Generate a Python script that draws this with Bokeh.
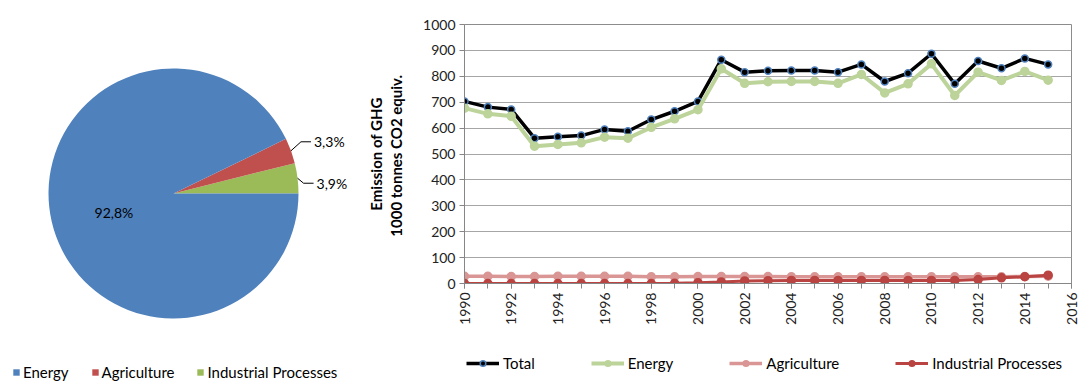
import math
from bokeh.plotting import figure
from bokeh.layouts import row, column
from bokeh.models import (Legend, LegendItem, FixedTicker, Title, Range1d)
from bokeh.core.properties import value
from bokeh.embed import file_html
from bokeh.resources import INLINE

# ---------------- data ----------------
pie_categories = ["Energy", "Agriculture", "Industrial Processes"]
pie_values = [92.8, 3.3, 3.9]
pie_colors = ["#4F81BD", "#C0504D", "#9BBB59"]

years = [1990, 1991, 1992, 1993, 1994, 1995, 1996, 1997, 1998, 1999,
         2000, 2001, 2002, 2003, 2004, 2005, 2006, 2007, 2008, 2009,
         2010, 2011, 2012, 2013, 2014, 2015]
total = [703, 681, 672, 561, 567, 571, 595, 588, 633, 665,
         703, 864, 816, 821, 822, 822, 816, 846, 780, 812,
         887, 771, 859, 831, 869, 846]
energy = [677, 655, 646, 530, 537, 543, 565, 561, 603, 636,
          671, 829, 773, 779, 780, 780, 773, 807, 736, 771,
          848, 726, 816, 784, 819, 785]
agriculture = [28, 28, 27, 27, 28, 28, 28, 28, 26, 26,
               27, 27, 27, 27, 26, 26, 26, 26, 26, 26,
               26, 26, 26, 26, 27, 28]
industrial = [0, 0, 0, 0, 0, 0, 0, 0, 0, 1,
              3, 6, 10, 11, 12, 12, 12, 12, 12, 12,
              12, 12, 15, 22, 26, 32]
x_ticks = [1990, 1992, 1994, 1996, 1998, 2000, 2002, 2004, 2006, 2008,
           2010, 2012, 2014, 2016]
y_ticks = [0, 100, 200, 300, 400, 500, 600, 700, 800, 900, 1000]
y_title_lines = ["Emission of GHG", "1000 tonnes CO2  equiv."]

FONT = "Lato"

# ---------------- pie ----------------
PW, PH = 360, 381
pie = figure(width=PW, height=PH, output_backend="svg", toolbar_location=None,
             x_range=Range1d(0, PW), y_range=Range1d(0, PH),
             x_axis_location=None, y_axis_location=None, min_border=0)
pie.frame_align = False
pie.outline_line_color = None
pie.xgrid.visible = False
pie.ygrid.visible = False

cx, cy, R = 173, 188, 125
# drawn counter-clockwise from 3 o'clock: Industrial, Agriculture, Energy
order = [2, 1, 0]
start = 0.0
angles = {}
for i in order:
    frac = pie_values[i] / sum(pie_values)
    end = start + frac * 2 * math.pi
    angles[i] = (start, end)
    start = end

wedge_r = {}
for i in order:
    s, e = angles[i]
    wedge_r[i] = pie.wedge(x=[cx], y=[cy], radius=R, start_angle=s, end_angle=e,
                           direction="anticlock", fill_color=pie_colors[i],
                           line_color=None)

def fmt(v):
    return ("%.1f%%" % v).replace(".", ",")

# inner label for Energy
s, e = angles[0]
mid = (s + e) / 2 + 0.08
pie.text(x=[cx + 0.5 * R * math.cos(mid)], y=[cy + 0.5 * R * math.sin(mid)],
         text=[fmt(pie_values[0])], text_align="center", text_baseline="middle",
         text_font=value(FONT), text_font_size="14px", text_color="#000000")

# outside labels with leader lines
for i, dx, dy in ((1, 10, 9), (2, 6, -5)):
    s, e = angles[i]
    mid = (s + e) / 2
    x0 = cx + R * math.cos(mid)
    y0 = cy + R * math.sin(mid)
    x1 = x0 + dx
    y1 = y0 + dy
    x2 = x1 + 10
    pie.line(x=[x0, x1, x2], y=[y0, y1, y1], line_color="#000000", line_width=1)
    pie.text(x=[x2 + 3], y=[y1], text=[fmt(pie_values[i])], text_align="left",
             text_baseline="middle", text_font=value(FONT), text_font_size="14px",
             text_color="#000000")

pie_legend = Legend(items=[LegendItem(label=pie_categories[i], renderers=[wedge_r[i]])
                           for i in range(3)],
                    orientation="horizontal", location=(12, 0),
                    glyph_width=8, glyph_height=8, label_standoff=3, spacing=22,
                    padding=0, margin=0, border_line_color=None,
                    background_fill_alpha=0,
                    label_text_font=FONT, label_text_font_size="15px",
                    label_text_color="#000000", label_height=16)
pie.add_layout(pie_legend, "center")

# ---------------- line chart ----------------
LW, LH = 719, 340
p = figure(width=LW, height=LH, output_backend="svg", toolbar_location=None,
           x_range=Range1d(1990, 2016), y_range=Range1d(0, 1000),
           min_border_left=104, min_border_right=8, min_border_top=24,
           min_border_bottom=LH - 283)
p.frame_align = False
p.outline_line_color = "#8C8C8C"
p.outline_line_width = 1
p.xgrid.visible = False
p.ygrid.grid_line_color = "#A6A6A6"
p.ygrid.grid_line_width = 1

p.yaxis.ticker = FixedTicker(ticks=y_ticks)
p.yaxis.major_tick_out = 5
p.yaxis.major_tick_in = 0
p.yaxis.minor_tick_line_color = None
p.yaxis.axis_line_color = "#868686"
p.yaxis.major_tick_line_color = "#868686"
p.yaxis.major_label_text_font = FONT
p.yaxis.major_label_text_font_size = "14px"
p.yaxis.major_label_text_color = "#222222"
p.yaxis.major_label_standoff = 4
p.yaxis.axis_label = y_title_lines[1]
p.yaxis.axis_label_text_font = FONT
p.yaxis.axis_label_text_font_size = "15px"
p.yaxis.axis_label_text_font_style = "bold"
p.yaxis.axis_label_text_color = "#000000"
p.yaxis.axis_label_standoff = 15

p.xaxis.ticker = FixedTicker(ticks=x_ticks, minor_ticks=years + [2016])
p.xaxis.major_tick_out = 5
p.xaxis.major_tick_in = 0
p.xaxis.minor_tick_out = 5
p.xaxis.minor_tick_in = 0
p.xaxis.axis_line_color = "#868686"
p.xaxis.major_tick_line_color = "#868686"
p.xaxis.minor_tick_line_color = "#868686"
p.xaxis.major_label_orientation = math.pi / 2
p.xaxis.major_label_text_font = FONT
p.xaxis.major_label_text_font_size = "14px"
p.xaxis.major_label_text_color = "#222222"
p.xaxis.major_label_standoff = 4

p.add_layout(Title(text=y_title_lines[0], align="center",
                   text_font=FONT, text_font_size="15px", text_font_style="bold",
                   text_color="#000000", standoff=0), "left")

series = [
    ("Total", total, "#000000", "#000000", "#4F81BD", 3.5, 7),
    ("Energy", energy, "#BCD39A", "#BCD39A", "#BCD39A", 4, 8),
    ("Agriculture", agriculture, "#D99694", "#D99694", "#D99694", 3.5, 8),
    ("Industrial Processes", industrial, "#B94441", "#B94441", "#B94441", 3, 8),
]
for name, vals, lc, fc, mc, lw, ms in series:
    p.line(x=years, y=vals, line_color=lc, line_width=lw)
    p.scatter(x=years, y=vals, size=ms, fill_color=fc, line_color=mc,
              line_width=1.5)

# ---------------- legend strip below the line chart ----------------
GH = PH - LH
leg_fig = figure(width=LW, height=GH, output_backend="svg", toolbar_location=None,
                 x_range=Range1d(0, 1), y_range=Range1d(0, 1),
                 x_axis_location=None, y_axis_location=None, min_border=0)
leg_fig.frame_align = False
leg_fig.outline_line_color = None
leg_fig.xgrid.visible = False
leg_fig.ygrid.visible = False
items = []
for name, vals, lc, fc, mc, lw, ms in series:
    # legend proxies (placed outside the visible range of this strip)
    lr = leg_fig.line(x=[5, 6], y=[5, 5], line_color=lc, line_width=lw)
    sr = leg_fig.scatter(x=[5], y=[5], size=ms, fill_color=fc, line_color=mc,
                         line_width=1.5)
    items.append(LegendItem(label=name, renderers=[lr, sr]))
line_legend = Legend(items=items, orientation="horizontal", location=(106, 9),
                     glyph_width=33, glyph_height=14, label_standoff=4, spacing=56,
                     padding=0, margin=0, border_line_color=None,
                     background_fill_alpha=0,
                     label_text_font=FONT, label_text_font_size="15px",
                     label_text_color="#000000", label_height=16)
leg_fig.add_layout(line_legend, "center")

layout = row(pie, column(p, leg_fig, spacing=0), spacing=0)
open("out.html", "w").write(file_html(layout, INLINE))
